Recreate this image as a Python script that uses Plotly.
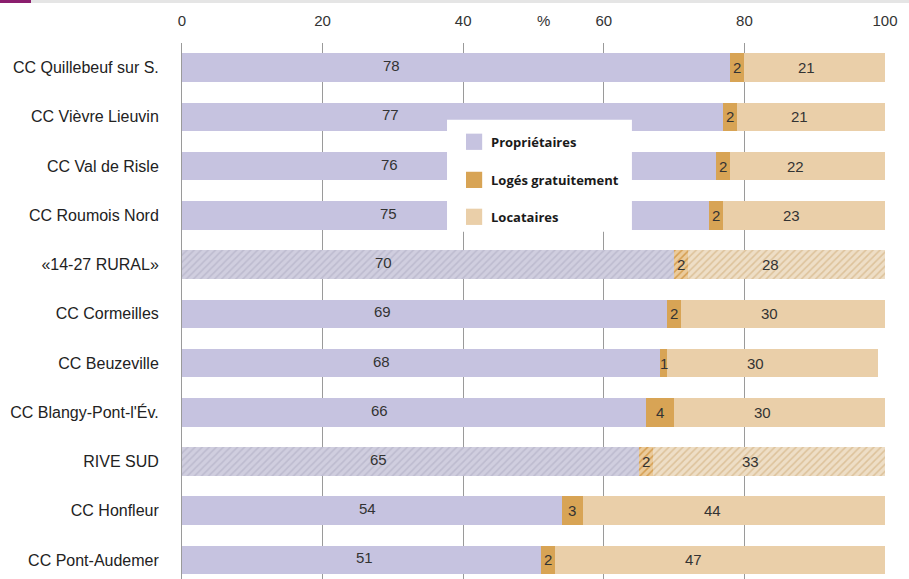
import plotly.graph_objects as go

# Statut d'occupation des résidences principales (%)
territoires = [
    "CC Quillebeuf sur S.", "CC Vièvre Lieuvin", "CC Val de Risle", "CC Roumois Nord",
    "«14-27 RURAL»", "CC Cormeilles", "CC Beuzeville", "CC Blangy-Pont-l'Év.",
    "RIVE SUD", "CC Honfleur", "CC Pont-Audemer",
]
proprietaires = [78, 77, 76, 75, 70, 69, 68, 66, 65, 54, 51]
loges_gratuit = [2, 2, 2, 2, 2, 2, 1, 4, 2, 3, 2]
locataires = [21, 21, 22, 23, 28, 30, 30, 30, 33, 44, 47]
references = ["«14-27 RURAL»", "RIVE SUD"]
x_ticks = [0, 20, 40, 60, 80, 100]

C_PROP, C_LOGE, C_LOC = "#C6C3E0", "#D8A455", "#EACFA9"
# hatched reference rows: (background, stripe)
H_PROP = ("#D0CEDF", "#BDBBCF")
H_LOGE = ("#EBCB9C", "#D59E50")
H_LOC = ("#EEDEC6", "#DDC29A")

is_ref = [t in references for t in territoires]

fig = go.Figure()
for name, vals, base, hatch in [
    ("Propriétaires", proprietaires, C_PROP, H_PROP),
    ("Logés gratuitement", loges_gratuit, C_LOGE, H_LOGE),
    ("Locataires", locataires, C_LOC, H_LOC),
]:
    y_std = [t for t, r in zip(territoires, is_ref) if not r]
    x_std = [v for v, r in zip(vals, is_ref) if not r]
    y_ref = [t for t, r in zip(territoires, is_ref) if r]
    x_ref = [v for v, r in zip(vals, is_ref) if r]
    fig.add_trace(go.Bar(
        y=y_std, x=x_std, orientation="h", name=name,
        marker=dict(color=base, line=dict(width=0)), width=0.58,
        showlegend=False, hoverinfo="x+y",
    ))
    fig.add_trace(go.Bar(
        y=y_ref, x=x_ref, orientation="h", name=name,
        marker=dict(color=hatch[0], line=dict(width=0),
                    pattern=dict(shape="/", fgcolor=hatch[1], bgcolor=hatch[0],
                                 size=5, solidity=0.3, fillmode="replace")),
        width=0.58, showlegend=False, hoverinfo="x+y",
    ))

# value labels
font_val = dict(family="Liberation Sans, Arial", size=15, color="#333333")
annotations = []
for t, p, g, l in zip(territoires, proprietaires, loges_gratuit, locataires):
    annotations.append(dict(x=18.5 + 0.145 * p, y=t, text=str(p), showarrow=False,
                            xanchor="center", yanchor="middle", font=font_val, yshift=2))
    annotations.append(dict(x=p + g / 2, y=t, text=str(g), showarrow=False,
                            xanchor="center", yanchor="middle", font=font_val))
    annotations.append(dict(x=p + g + 0.42 * l, y=t, text=str(l), showarrow=False,
                            xanchor="center", yanchor="middle", font=font_val))

annotations.append(dict(x=51.4, y=1.0, xref="x", yref="paper", yshift=33, text="%",
                        showarrow=False, font=dict(family="Liberation Sans, Arial",
                                                   size=15, color="#333333")))

# legend box
legend_items = [("Propriétaires", C_PROP), ("Logés gratuitement", C_LOGE), ("Locataires", C_LOC)]
legend_y = [1.506, 2.28, 3.03]
shapes = [dict(type="rect", xref="x", yref="y", x0=37.7, x1=64.0, y0=1.057, y1=3.333,
               fillcolor="white", line=dict(width=0), layer="above")]
for (lab, col), yy in zip(legend_items, legend_y):
    shapes.append(dict(type="rect", xref="x", yref="y", x0=40.4, x1=42.7,
                       y0=yy - 0.165, y1=yy + 0.165, fillcolor=col,
                       line=dict(width=0), layer="above"))
    annotations.append(dict(x=43.6, y=yy, xref="x", yref="y", text="<b>" + lab + "</b>",
                            showarrow=False, xanchor="left", yanchor="middle",
                            font=dict(family="Open Sans, Lato", size=13, color="#1a1a1a")))

# header band: purple tab + grey strip across the top
shapes.append(dict(type="rect", xref="paper", yref="paper", x0=-182 / 703, x1=(-182 + 31) / 703,
                   y0=1 + 40 / 536, y1=1 + 43 / 536, fillcolor="#8B1E6E", line=dict(width=0)))
shapes.append(dict(type="rect", xref="paper", yref="paper", x0=(-182 + 31) / 703, x1=1 + 24 / 703,
                   y0=1 + 40 / 536, y1=1 + 43 / 536, fillcolor="#E5E5E5", line=dict(width=0)))

fig.update_layout(
    width=909, height=579,
    margin=dict(l=182, r=24, t=43, b=0),
    plot_bgcolor="white", paper_bgcolor="white",
    barmode="stack", bargap=0.42,
    shapes=shapes, annotations=annotations,
    xaxis=dict(range=[0, 100], tickvals=x_ticks, side="top", showgrid=True,
               gridcolor="#9a9a9a", gridwidth=1, zeroline=False, showline=False,
               ticks="", tickfont=dict(family="Liberation Sans, Arial", size=15,
                                        color="#333333"), ticklabelstandoff=13,
               fixedrange=True),
    yaxis=dict(categoryorder="array", categoryarray=territoires,
               range=[10.386, -0.5], autorange=False, showgrid=False,
               ticks="", ticklabelstandoff=19, showline=True, linecolor="#9a9a9a",
               tickfont=dict(family="Liberation Sans, Arial", size=16, color="#222222"),
               fixedrange=True),
)

fig.write_html("out.html")
